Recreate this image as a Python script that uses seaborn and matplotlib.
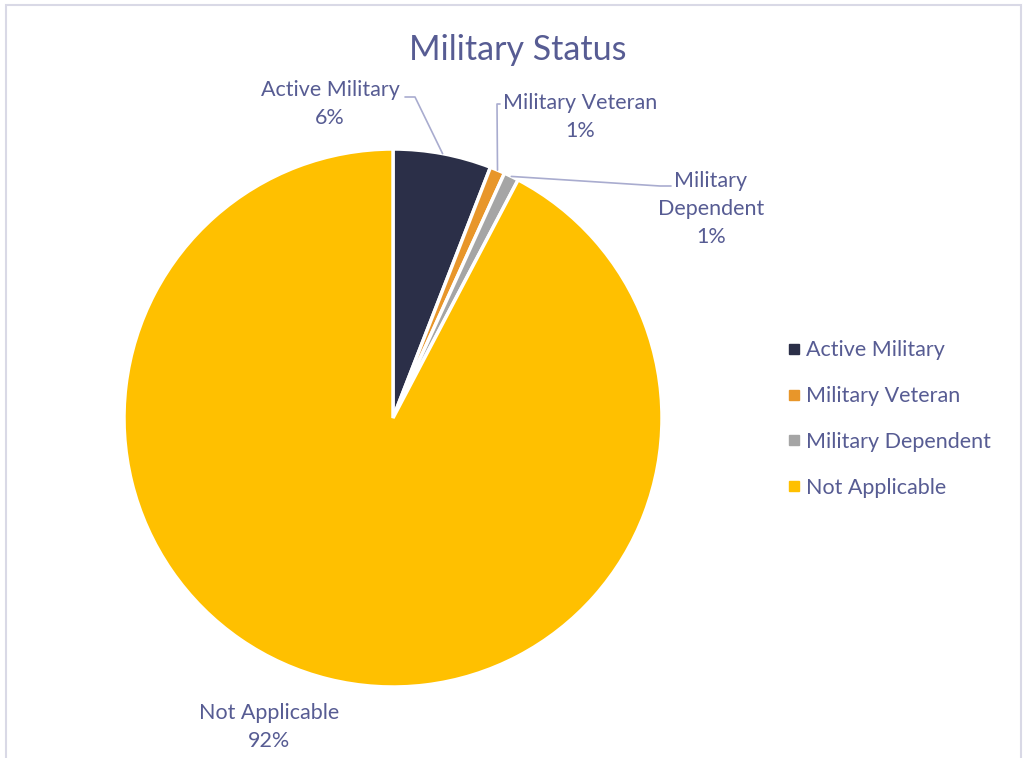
import numpy as np
import seaborn as sns
import matplotlib.pyplot as plt
from matplotlib.patches import Rectangle
from matplotlib.lines import Line2D

# Datos (porcentajes)
categorias = ["Active Military", "Military Veteran", "Military Dependent", "Not Applicable"]
valores = [5.9, 0.9, 0.9, 92.3]
colores = ["#2B2F48", "#E8962A", "#A5A5A5", "#FFC000"]

sns.set_theme(style="white")
plt.rcParams["font.family"] = ["Lato", "DejaVu Sans"]
color_texto = "#575C93"

W, H = 1026, 758
fig = plt.figure(figsize=(W / 100, H / 100), dpi=100)
fig.patch.set_facecolor("white")

# Marco del grafico
fig.patches.append(Rectangle((6 / W, -0.05), 1015 / W, 1.05 - 5 / H, transform=fig.transFigure,
                             fill=False, edgecolor="#D9D9E6", lw=1.5))

# Ejes del pastel: centro (393, 418), radio 269 px
cx, cy, r = 393, 418, 269
ax = fig.add_axes([(cx - r) / W, (H - cy - r) / H, 2 * r / W, 2 * r / H])
paleta = sns.color_palette(colores)
wedges, _ = ax.pie(valores, colors=paleta, startangle=90, counterclock=False,
                   wedgeprops=dict(edgecolor="white", linewidth=2.5), radius=1)
ax.set_xlim(-1, 1)
ax.set_ylim(-1, 1)
ax.set_aspect("equal")
ax.axis("off")


def px(x, y):
    # pixeles de la figura -> coordenadas del eje
    return (x - cx) / r, (cy - y) / r


def borde(w):
    ang = np.deg2rad((w.theta1 + w.theta2) / 2)
    return np.cos(ang), np.sin(ang)


total = sum(valores)
etiquetas = [f"{c}\n{round(v / total * 100):.0f}%" for c, v in zip(categorias, valores)]
etiquetas[2] = "Military\nDependent\n{:.0f}%".format(round(valores[2] / total * 100))

kw = dict(color=color_texto, fontsize=15.5, ha="center", va="center", linespacing=1.48)
linea = dict(color="#A9ACCF", lw=1.2, clip_on=False)

# Active Military
ax.text(*px(330, 104), etiquetas[0], **kw)
e = borde(wedges[0])
p1, p2 = px(405, 97), px(415, 97)
ax.plot([p1[0], p2[0], e[0]], [p1[1], p2[1], e[1]], **linea)

# Military Veteran
ax.text(*px(580, 117), etiquetas[1], **kw)
e = borde(wedges[1])
p1, p2 = px(500, 104), px(497, 104)
ax.plot([p1[0], p2[0], e[0]], [p1[1], p2[1], e[1]], **linea)

# Military Dependent
ax.text(*px(711, 209), etiquetas[2], **kw)
e = borde(wedges[2])
p1, p2 = px(671, 186), px(660, 186)
ax.plot([p1[0], p2[0], e[0]], [p1[1], p2[1], e[1]], **linea)

# Not Applicable
ax.text(*px(269, 727), etiquetas[3], **kw)

# Titulo
fig.text(518 / W, 1 - 50 / H, "Military Status", color=color_texto, fontsize=24.5,
         ha="center", va="center")

# Leyenda
marcas = [Line2D([], [], marker="s", ls="", color=c, markersize=7) for c in paleta]
leg = fig.legend(marcas, categorias, loc="center left", bbox_to_anchor=(768 / W, 1 - 419 / H),
                 frameon=False, fontsize=15.5, handlelength=0.6, handletextpad=0.25,
                 labelspacing=1.2)
for t in leg.get_texts():
    t.set_color(color_texto)

fig.savefig("out.png", dpi=100)
